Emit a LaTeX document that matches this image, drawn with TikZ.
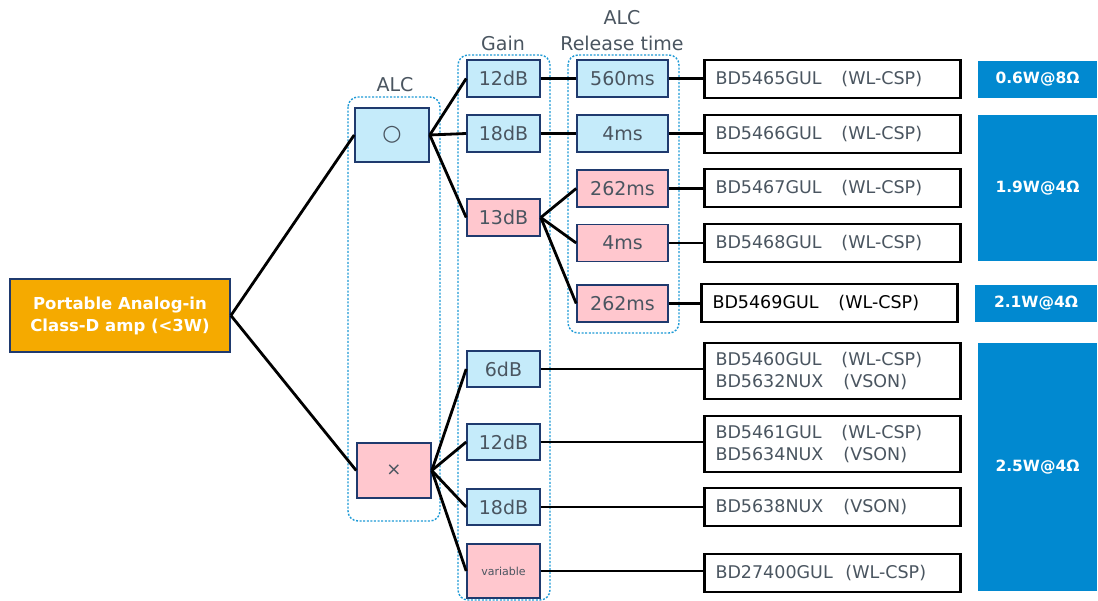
\documentclass[tikz,border=0pt]{standalone}
\usepackage{fontspec}
\setmainfont{DejaVu Sans}
\definecolor{txtgray}{HTML}{4A5560}
\definecolor{lblue}{HTML}{C5EBFA}
\definecolor{lpink}{HTML}{FFC7CE}
\definecolor{navy}{HTML}{1F3A6E}
\definecolor{orangeb}{HTML}{F5AA00}
\definecolor{blueb}{HTML}{0189D0}
\definecolor{dotc}{HTML}{1E9AD6}
\begin{document}
\begin{tikzpicture}[x=1pt,y=-1pt,
  box/.style={draw=navy,line width=1.6pt,inner sep=0pt,text=txtgray,font=\fontsize{19}{22}\selectfont},
  bluebox/.style={box,fill=lblue},
  pinkbox/.style={box,fill=lpink},
  gainw/.style={minimum width=73pt},
  relw/.style={minimum width=91pt,minimum height=37pt},
  prod/.style={draw=black,line width=2.4pt,inner xsep=11pt,inner ysep=0pt,minimum width=256pt,text width=234pt,align=left,text=txtgray,font=\fontsize{17.5}{22}\selectfont},
  watt/.style={fill=blueb,inner sep=0pt,text=white,font=\bfseries\fontsize{15.5}{18}\selectfont},
  grp/.style={draw=dotc,line width=1.4pt,dash pattern=on 2pt off 1.6pt,rounded corners=10pt},
  hdr/.style={text=txtgray,font=\fontsize{19}{24}\selectfont,inner sep=0pt},
  conn/.style={line width=2.8pt,black}
]
\useasboundingbox (0,0) rectangle (1098,601);
\fill[white] (0,0) rectangle (1098,601);

% groups
\draw[grp] (348,97) rectangle (440,521);
\draw[grp] (458,55) rectangle (550,600);
\draw[grp] (568,55) rectangle (679,333);

% headers
\node[hdr] (hALC) at (395,85) {ALC};
\node[hdr] (hGain) at (503,43) {Gain};
\node[hdr] (hALC2) at (622,18) {ALC};
\node[hdr] (hRel) at (622,43) {Release time};

% main
\node[draw=navy,line width=1.8pt,fill=orangeb,minimum width=220pt,minimum height=73pt,inner sep=0pt,align=center,text=white,font=\bfseries\fontsize{16.5}{22}\selectfont] (main) at (120,315.5) {Portable Analog-in\\Class-D amp (<3W)};

% ALC
\node[bluebox,minimum width=74pt,minimum height=54pt,font=\fontsize{22}{22}\selectfont] (yes) at (392,135) {○};
\node[pinkbox,minimum width=74pt,minimum height=55pt,font=\fontsize{18}{22}\selectfont] (no) at (394,470.5) {×};

% gain
\node[bluebox,gainw,minimum height=37pt] (g12) at (503.5,78.5) {12dB};
\node[bluebox,gainw,minimum height=37pt] (g18) at (503.5,133.5) {18dB};
\node[pinkbox,gainw,minimum height=37pt] (g13) at (503.5,217.5) {13dB};
\node[bluebox,gainw,minimum height=36pt] (g6) at (503.5,369) {6dB};
\node[bluebox,gainw,minimum height=36pt] (g12b) at (503.5,442) {12dB};
\node[bluebox,gainw,minimum height=36pt] (g18b) at (503.5,507) {18dB};
\node[pinkbox,gainw,minimum height=54pt,font=\fontsize{11}{13}\selectfont] (gv) at (503.5,571) {variable};

% release
\node[bluebox,relw] (r560) at (622.5,78.5) {560ms};
\node[bluebox,relw] (r4a) at (622.5,133.5) {4ms};
\node[pinkbox,relw] (r262a) at (622.5,188.5) {262ms};
\node[pinkbox,relw] (r4b) at (622.5,243) {4ms};
\node[pinkbox,relw] (r262b) at (622.5,303.5) {262ms};

% products
\node[prod,minimum height=38pt] (p65) at (832.5,79) {\makebox[126pt][l]{BD5465GUL}(WL-CSP)};
\node[prod,minimum height=38pt] (p66) at (832.5,134) {\makebox[126pt][l]{BD5466GUL}(WL-CSP)};
\node[prod,minimum height=38pt] (p67) at (832.5,188) {\makebox[126pt][l]{BD5467GUL}(WL-CSP)};
\node[prod,minimum height=38pt] (p68) at (832.5,243) {\makebox[126pt][l]{BD5468GUL}(WL-CSP)};
\node[prod,minimum height=38pt,text=black] (p69) at (829.5,303) {\makebox[126pt][l]{BD5469GUL}(WL-CSP)};
\node[prod,minimum height=56pt] (p60) at (832.5,371) {\makebox[126pt][l]{BD5460GUL}(WL-CSP)\\\makebox[128pt][l]{BD5632NUX}(VSON)};
\node[prod,minimum height=56pt] (p61) at (832.5,444) {\makebox[126pt][l]{BD5461GUL}(WL-CSP)\\\makebox[128pt][l]{BD5634NUX}(VSON)};
\node[prod,minimum height=38pt] (p38) at (832.5,507) {\makebox[128pt][l]{BD5638NUX}(VSON)};
\node[prod,minimum height=38pt] (p74) at (832.5,573) {\makebox[130pt][l]{BD27400GUL}(WL-CSP)};

% watt boxes
\node[watt,minimum width=119pt,minimum height=37pt] (w06) at (1037.5,79.5) {0.6W@8Ω};
\node[watt,minimum width=119pt,minimum height=146pt] (w19) at (1037.5,188) {1.9W@4Ω};
\node[watt,minimum width=122pt,minimum height=37pt] (w21) at (1036,303.5) {2.1W@4Ω};
\node[watt,minimum width=119pt,minimum height=248pt] (w25) at (1037.5,467) {2.5W@4Ω};

% connectors
\draw[conn] (main.east) -- (yes.west);
\draw[conn] (main.east) -- (no.west);
\draw[conn] (yes.east) -- (g12.west);
\draw[conn] (yes.east) -- (g18.west);
\draw[conn] (yes.east) -- (g13.west);
\draw[conn] (no.east) -- (g6.west);
\draw[conn] (no.east) -- (g12b.west);
\draw[conn] (no.east) -- (g18b.west);
\draw[conn] (no.east) -- (gv.west);
\draw[conn] (g12.east) -- (r560.west);
\draw[conn] (g18.east) -- (r4a.west);
\draw[conn] (g13.east) -- (r262a.west);
\draw[conn] (g13.east) -- (r4b.west);
\draw[conn] (g13.east) -- (r262b.west);
\draw[conn] (r560.east) -- (r560.east -| p65.west);
\draw[conn] (r4a.east) -- (r4a.east -| p66.west);
\draw[conn] (r262a.east) -- (r262a.east -| p67.west);
\draw[conn] (r4b.east) -- (r4b.east -| p68.west);
\draw[conn] (r262b.east) -- (r262b.east -| p69.west);
\draw[conn] (g6.east) -- (g6.east -| p60.west);
\draw[conn] (g12b.east) -- (g12b.east -| p61.west);
\draw[conn] (g18b.east) -- (g18b.east -| p38.west);
\draw[conn] (gv.east) -- (gv.east -| p74.west);
\end{tikzpicture}
\end{document}
